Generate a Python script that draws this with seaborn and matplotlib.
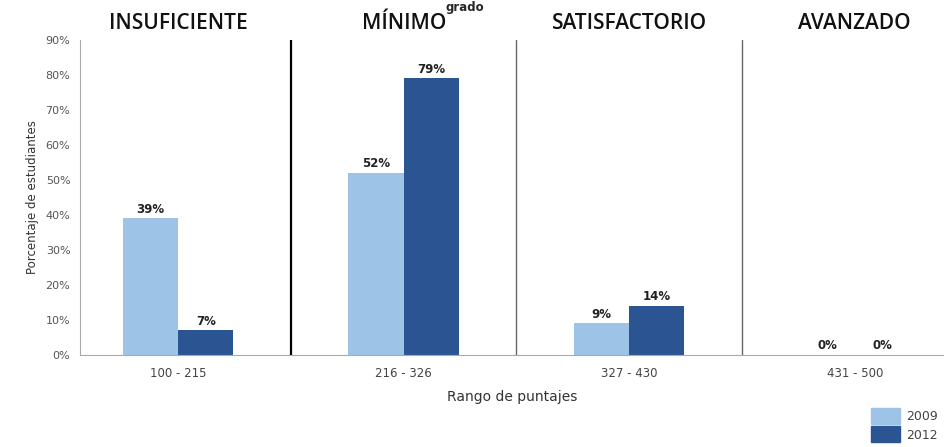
import pandas as pd
import numpy as np
import matplotlib
matplotlib.use("Agg")
import matplotlib.pyplot as plt
import seaborn as sns
from matplotlib.patches import Patch

# Data
rangos = ["100 - 215", "216 - 326", "327 - 430", "431 - 500"]
niveles = ["INSUFICIENTE", "MÍNIMO", "SATISFACTORIO", "AVANZADO"]
valores_2009 = [39, 52, 9, 0]
valores_2012 = [7, 79, 14, 0]
anios = ["2009", "2012"]

df = pd.DataFrame({
    "Rango": rangos * 2,
    "Valor": valores_2009 + valores_2012,
    "Año": ["2009"] * 4 + ["2012"] * 4,
})

colores = {"2009": "#9dc3e6", "2012": "#2a5592"}

sns.set_style("white")
plt.rcParams["font.family"] = ["DejaVu Sans"]

fig = plt.figure(figsize=(9.45, 4.47), dpi=100)
ax = fig.add_axes([0.0847, 0.206, 0.9153, 0.705])

sns.barplot(data=df, x="Rango", y="Valor", hue="Año", palette=colores,
            width=0.49, ax=ax, legend=False, saturation=1, linewidth=0)

ax.set_xlim(-0.435, 3.40)
ax.set_ylim(0, 90)
ax.set_yticks(range(0, 91, 10))
ax.set_yticklabels([f"{v}%" for v in range(0, 91, 10)], fontsize=8, color="#555555")
ax.tick_params(axis="x", labelsize=8.5, colors="#999999", labelcolor="#444444",
               length=3, pad=6)
ax.tick_params(axis="y", length=3, colors="#999999", labelcolor="#555555", pad=4)

for cont in ax.containers:
    ax.bar_label(cont, labels=[f"{int(v)}%" for v in cont.datavalues],
                 fontsize=8.5, fontweight="bold", padding=2, color="#222222")

for s in ["top", "right"]:
    ax.spines[s].set_visible(False)
ax.spines["left"].set_color("#aaaaaa")
ax.spines["bottom"].set_color("#aaaaaa")

# dividers between performance levels
ax.axvline(0.5, color="black", linewidth=1.6)
ax.axvline(1.5, color="#666666", linewidth=1.0)
ax.axvline(2.5, color="#666666", linewidth=1.0)

for i, nivel in enumerate(niveles):
    ax.text(i, 1.052, nivel, transform=ax.get_xaxis_transform(), ha="center",
            va="center", fontsize=15, fontweight="semibold", color="#111111",
            family="Open Sans")

ax.set_xlabel("Rango de puntajes", fontsize=10, color="#333333", labelpad=7)
ax.set_ylabel("Porcentaje de estudiantes", fontsize=8.5, color="#333333", labelpad=5)

fig.text(0.492, 0.984, "grado", ha="center", va="center", fontsize=8.5,
         fontweight="bold")

handles = [Patch(color=colores[a]) for a in anios]
fig.legend(handles, anios, loc="lower left", bbox_to_anchor=(0.910, -0.015),
           frameon=False, fontsize=9, handlelength=2.3, handleheight=1.6,
           handletextpad=0.5, labelspacing=0.2, labelcolor="#444444")

plt.savefig("out.png", dpi=100)
